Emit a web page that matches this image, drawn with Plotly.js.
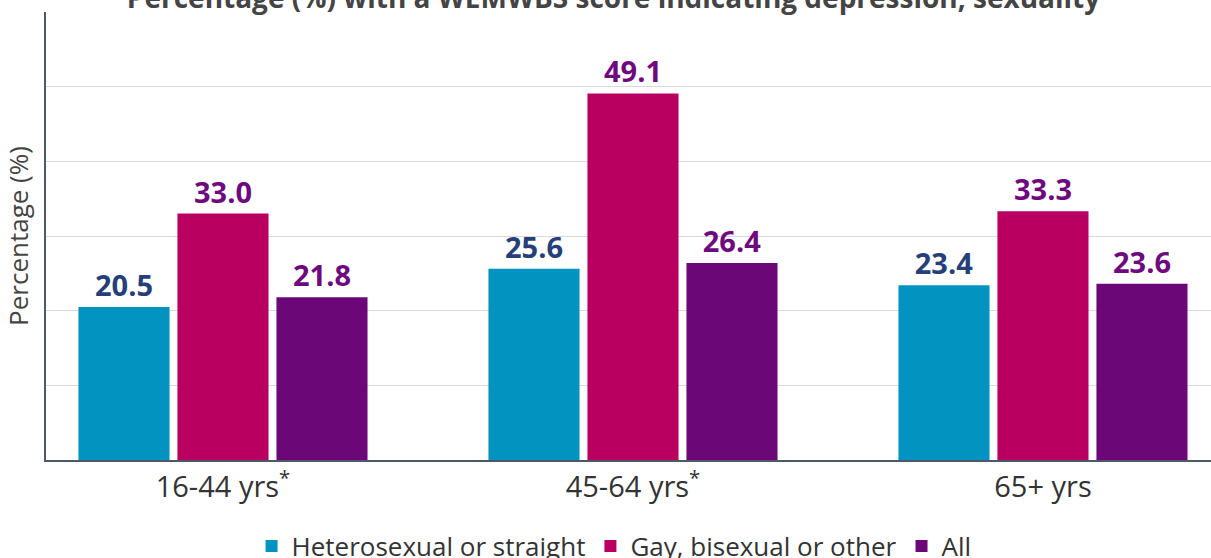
<!DOCTYPE html>
<html>
<head>
<meta charset="utf-8">
<script src="https://cdn.plot.ly/plotly-3.0.1.min.js"></script>
<style>html,body{margin:0;padding:0;background:#fff;}#chart{width:1211px;height:558px;}</style>
</head>
<body>
<div id="chart"></div>
<script>
const categories = ["16-44 yrs<sup>*</sup>", "45-64 yrs<sup>*</sup>", "65+ yrs"];
const seriesNames = ["Heterosexual or straight", "Gay, bisexual or other", "All"];
const heterosexual = [20.5, 25.6, 23.4];
const gayBisexualOther = [33.0, 49.1, 33.3];
const allPeople = [21.8, 26.4, 23.6];

const barColors = ["#0393c1", "#b90061", "#6b0777"];
const labelColors = ["#263f7a", "#6e0a7e", "#6e0a7e"];
const values = [heterosexual, gayBisexualOther, allPeople];

const traces = values.map((v, i) => ({
  type: "bar",
  name: seriesNames[i],
  x: categories,
  y: v,
  marker: {color: barColors[i]},
  text: v.map(n => n.toFixed(1)),
  textposition: "outside",
  textfont: {family: "Open Sans", size: 29, color: labelColors[i], weight: 700},
  outsidetextfont: {family: "Open Sans", size: 29, color: labelColors[i], weight: 700},
  cliponaxis: false,
  hoverinfo: "skip"
}));

const layout = {
  width: 1211,
  height: 558,
  margin: {l: 46, r: 0, t: 12, b: 98, autoexpand: false},
  paper_bgcolor: "#fff",
  plot_bgcolor: "#fff",
  font: {family: "Open Sans", color: "#333"},
  title: {
    text: "<b>Percentage (%) with a WEMWBS score indicating depression, sexuality</b>",
    font: {family: "Open Sans", size: 28, color: "#444"},
    xref: "container", x: 0.5066,
    yref: "paper", y: 1, yanchor: "bottom",
    pad: {b: 4}
  },
  barmode: "group",
  bargap: 0.2756,
  bargroupgap: 0.08,
  showlegend: true,
  legend: {
    orientation: "h",
    x: 0.4876, xanchor: "center",
    y: -0.14, yanchor: "top",
    font: {family: "Open Sans", size: 26, color: "#333"},
    traceorder: "normal"
  },
  xaxis: {
    type: "category",
    range: [-0.4317, 2.4098],
    showline: true,
    linecolor: "#4d5966",
    linewidth: 2,
    ticks: "",
    tickfont: {family: "Open Sans", size: 29, color: "#333"},
    showgrid: false,
    zeroline: false,
    automargin: false
  },
  yaxis: {
    range: [0, 60],
    dtick: 10,
    showticklabels: false,
    showgrid: true,
    gridcolor: "#d9d9d9",
    gridwidth: 1,
    showline: true,
    linecolor: "#4d5966",
    linewidth: 2,
    zeroline: false,
    ticks: "",
    automargin: false,
    title: {text: "Percentage (%)", font: {family: "Open Sans", size: 26, color: "#444"}, standoff: 10}
  }
};

Plotly.newPlot("chart", traces, layout, {displayModeBar: false, staticPlot: true});
</script>
</body>
</html>
